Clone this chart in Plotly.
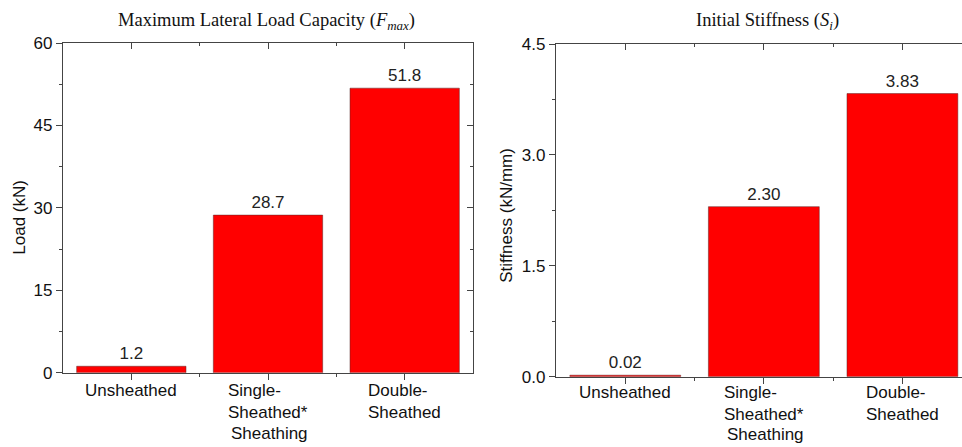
import plotly.graph_objects as go

categories = ["Unsheathed", "Single-<br>Sheathed*", "Double-<br>Sheathed"]
load_values = [1.2, 28.7, 51.8]
stiffness_values = [0.02, 2.30, 3.83]
load_ticks = [0, 15, 30, 45, 60]
stiff_ticks = [0.0, 1.5, 3.0, 4.5]
stiff_ticktext = ["0.0", "1.5", "3.0", "4.5"]

W, H = 962, 447
SANS = "Liberation Sans, Arial, sans-serif"
SERIF = "Liberation Serif, Times New Roman, serif"
AX = "#444444"
RED = "#ff0000"

idx = list(range(len(categories)))

fig = go.Figure()

fig.add_trace(go.Bar(
    x=idx, y=load_values, xaxis="x", yaxis="y", width=0.8,
    marker=dict(color=RED, line=dict(color="rgba(90,40,40,0.5)", width=1)),
    text=load_values, texttemplate="%{y:.1f}", textposition="outside",
    textfont=dict(family=SANS, size=17, color="#222"), cliponaxis=False,
    showlegend=False, hoverinfo="skip"))
fig.add_trace(go.Bar(
    x=idx, y=stiffness_values, xaxis="x2", yaxis="y2", width=0.8,
    marker=dict(color=RED, line=dict(color="rgba(90,40,40,0.5)", width=1)),
    text=stiffness_values, texttemplate="%{y:.2f}", textposition="outside",
    textfont=dict(family=SANS, size=17, color="#222"), cliponaxis=False,
    showlegend=False, hoverinfo="skip"))
# helper traces so the frame axes (top / right) are drawn
for xa, ya in [("x3", "y"), ("x", "y3"), ("x4", "y2")]:
    fig.add_trace(go.Scatter(x=[None], y=[None], xaxis=xa, yaxis=ya,
                             showlegend=False, hoverinfo="skip"))

d1 = [63 / W, 473 / W]
d2 = [556 / W, 1.0]
yd1 = [(H - 380) / H, (H - 35.6) / H]
yd2 = [(H - 384) / H, (H - 36.6) / H]
xr1 = [-0.5, 2.5]
xr2 = [-0.5, 2.43]
mid = [i + 0.5 for i in idx[:-1]]

def xaxis(domain, rng, anchor, side="bottom", overlay=None, ticks="outside"):
    d = dict(domain=domain, range=rng, anchor=anchor, side=side,
             tickvals=idx, showticklabels=False, ticks=ticks, ticklen=6,
             tickcolor=AX, showline=True, linecolor=AX, linewidth=1.3,
             showgrid=False, zeroline=False, fixedrange=True,
             minor=dict(tickvals=mid, ticks=ticks, ticklen=3, tickcolor=AX))
    if overlay:
        d["overlaying"] = overlay
    return d

def yaxis(domain, rng, anchor, tickvals, ticktext, minor_d, side="left",
          overlay=None, ticks="outside", labels=True):
    d = dict(domain=domain, range=rng, anchor=anchor, side=side,
             tickvals=tickvals, showticklabels=labels,
             ticks=ticks, ticklen=6, tickcolor=AX, showline=True,
             linecolor=AX, linewidth=1.3, showgrid=False, zeroline=False,
             fixedrange=True, tickfont=dict(family=SANS, size=17, color="#111"),
             minor=dict(dtick=minor_d, tick0=0, ticks=ticks, ticklen=3,
                        tickcolor=AX))
    if ticktext is not None:
        d["ticktext"] = ticktext
    if overlay:
        d["overlaying"] = overlay
    return d

fig.update_layout(
    width=W, height=H, margin=dict(l=0, r=0, t=0, b=0),
    paper_bgcolor="white", plot_bgcolor="white", bargap=0.2,
    xaxis=xaxis(d1, xr1, "y"),
    xaxis2=xaxis(d2, xr2, "y2"),
    xaxis3=xaxis(d1, xr1, "y", side="top", overlay="x", ticks="inside"),
    xaxis4=xaxis(d2, xr2, "y2", side="top", overlay="x2", ticks="inside"),
    yaxis=yaxis(yd1, [0, 60], "x", load_ticks, [str(t) for t in load_ticks], 7.5),
    yaxis2=yaxis(yd2, [0, 4.5], "x2", stiff_ticks, stiff_ticktext, 0.75),
    yaxis3=yaxis(yd1, [0, 60], "x", load_ticks, None, 7.5, side="right",
                 overlay="y", ticks="inside", labels=False),
)

ann = []
# category labels
for xr, ytop in [("x", 386), ("x2", 389)]:
    for i, c in zip(idx, categories):
        ann.append(dict(x=i, xref=xr, y=(H - ytop) / H, yref="paper",
                        text=c, showarrow=False, xanchor="center", yanchor="top",
                        align="left", font=dict(family=SANS, size=17, color="#111")))
# axis titles
ann.append(dict(x=269 / W, y=(H - 443) / H, xref="paper", yref="paper",
                text="Sheathing", showarrow=False, xanchor="center", yanchor="middle",
                font=dict(family=SANS, size=17, color="#111")))
ann.append(dict(x=765 / W, y=(H - 444) / H, xref="paper", yref="paper",
                text="Sheathing", showarrow=False, xanchor="center", yanchor="middle",
                font=dict(family=SANS, size=17, color="#111")))
ann.append(dict(x=20 / W, y=(H - 218) / H, xref="paper", yref="paper",
                text="Load (kN)", showarrow=False, textangle=-90,
                xanchor="center", yanchor="middle",
                font=dict(family=SANS, size=17, color="#111")))
ann.append(dict(x=507 / W, y=(H - 215) / H, xref="paper", yref="paper",
                text="Stiffness (kN/mm)", showarrow=False, textangle=-90,
                xanchor="center", yanchor="middle",
                font=dict(family=SANS, size=17, color="#111")))
# panel titles
ann.append(dict(x=266 / W, y=(H - 13) / H, xref="paper", yref="paper",
                text="Maximum Lateral Load Capacity (<i>F</i><sub><i>max</i></sub>)",
                showarrow=False, xanchor="center", yanchor="middle",
                font=dict(family=SERIF, size=18.5, color="#111")))
ann.append(dict(x=767 / W, y=(H - 13) / H, xref="paper", yref="paper",
                text="Initial Stiffness (<i>S</i><sub><i>i</i></sub>)",
                showarrow=False, xanchor="center", yanchor="middle",
                font=dict(family=SERIF, size=18.5, color="#111")))
fig.update_layout(annotations=ann)

fig.write_html("out.html")
